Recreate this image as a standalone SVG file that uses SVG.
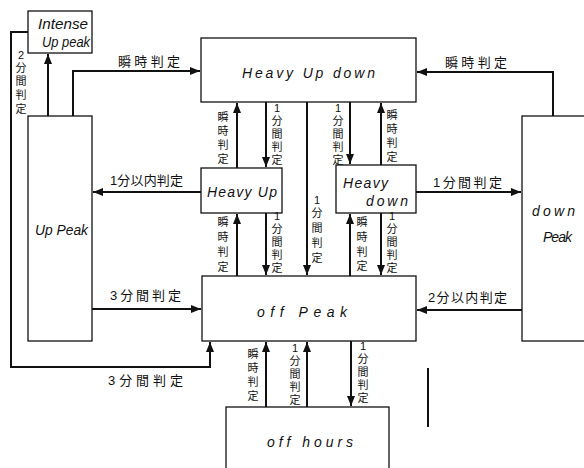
<svg xmlns="http://www.w3.org/2000/svg" width="584" height="468" viewBox="0 0 584 468">
<style>
.box{fill:#fff;stroke:#111;stroke-width:1.3}
.c{fill:none;stroke:#111;stroke-width:2}
.en{font-family:"Liberation Sans","DejaVu Sans",sans-serif;font-style:italic;font-size:14px;fill:#111}
.jp{font-family:"Liberation Sans","Noto Sans CJK JP",sans-serif;font-size:13px;fill:#111}
.v{font-family:"Liberation Sans","Noto Sans CJK JP",sans-serif;font-size:11px;fill:#111;text-anchor:middle}
</style>
<defs>
<marker id="ah" viewBox="0 0 10 8" refX="10" refY="4" markerWidth="10" markerHeight="8" markerUnits="userSpaceOnUse" orient="auto">
<path d="M0,0 L10,4 L0,8 Z" fill="#111"/>
</marker>
</defs>
<rect width="584" height="468" fill="#fff"/>

<g id="intense-up-peak"><rect class="box" x="28" y="11" width="64" height="42"/>
<text class="en" x="38" y="29" textLength="50" lengthAdjust="spacingAndGlyphs">Intense</text>
<text class="en" x="42" y="47" textLength="48" lengthAdjust="spacingAndGlyphs">Up peak</text></g>

<g id="up-peak"><rect class="box" x="28" y="116" width="64" height="225"/>
<text class="en" x="35" y="235" textLength="53" lengthAdjust="spacingAndGlyphs">Up Peak</text></g>

<g id="heavy-up-down"><rect class="box" x="201" y="38" width="215" height="64"/>
<text class="en" x="242" y="78" textLength="133" lengthAdjust="spacing">Heavy Up down</text></g>

<g id="heavy-up"><rect class="box" x="201" y="168" width="81" height="45"/>
<text class="en" x="207" y="197" textLength="70" lengthAdjust="spacing">Heavy Up</text></g>

<g id="heavy-down"><rect class="box" x="336" y="165" width="80" height="48"/>
<text class="en" x="343" y="188" textLength="45" lengthAdjust="spacing">Heavy</text>
<text class="en" x="366" y="206" textLength="42" lengthAdjust="spacing">down</text></g>

<g id="down-peak"><rect class="box" x="522" y="116" width="70" height="225"/>
<text class="en" x="532" y="216" textLength="43" lengthAdjust="spacing">down</text>
<text class="en" x="543" y="242" textLength="29" lengthAdjust="spacing">Peak</text></g>

<g id="off-peak"><rect class="box" x="202" y="276" width="214" height="65"/>
<text class="en" x="257" y="317" textLength="90" lengthAdjust="spacing">off  Peak</text></g>

<g id="off-hours"><rect class="box" x="226" y="407" width="163" height="70"/>
<text class="en" x="267" y="447" textLength="86" lengthAdjust="spacing">off hours</text></g>

<g id="connectors">
<path class="c" d="M48,116 V54" marker-end="url(#ah)"/>
<path class="c" d="M73,116 V71 H200" marker-end="url(#ah)"/>
<path class="c" d="M553,116 V72 H417" marker-end="url(#ah)"/>
<path class="c" d="M28,32 H11 V367 H210 V342" marker-end="url(#ah)"/>
<path class="c" d="M237,168 V103" marker-end="url(#ah)"/>
<path class="c" d="M266,102 V167" marker-end="url(#ah)"/>
<path class="c" d="M307,102 V275" marker-end="url(#ah)"/>
<path class="c" d="M350,102 V164" marker-end="url(#ah)"/>
<path class="c" d="M381,165 V103" marker-end="url(#ah)"/>
<path class="c" d="M201,192 H93" marker-end="url(#ah)"/>
<path class="c" d="M416,192 H521" marker-end="url(#ah)"/>
<path class="c" d="M237,276 V214" marker-end="url(#ah)"/>
<path class="c" d="M266,213 V275" marker-end="url(#ah)"/>
<path class="c" d="M350,276 V214" marker-end="url(#ah)"/>
<path class="c" d="M381,213 V275" marker-end="url(#ah)"/>
<path class="c" d="M92,309 H201" marker-end="url(#ah)"/>
<path class="c" d="M522,310 H417" marker-end="url(#ah)"/>
<path class="c" d="M266,407 V342" marker-end="url(#ah)"/>
<path class="c" d="M307,407 V342" marker-end="url(#ah)"/>
<path class="c" d="M351,341 V406" marker-end="url(#ah)"/>
<path class="c" d="M428,368 V427"/>
</g>

<g id="labels">
<text class="jp" x="118" y="66" textLength="62" lengthAdjust="spacing">瞬時判定</text>
<text class="jp" x="445" y="67" textLength="62" lengthAdjust="spacing">瞬時判定</text>
<text class="jp" x="110" y="185" textLength="73" lengthAdjust="spacing">1分以内判定</text>
<text class="jp" x="433" y="187" textLength="69" lengthAdjust="spacing">1分間判定</text>
<text class="jp" x="110" y="300" textLength="71" lengthAdjust="spacing">3分間判定</text>
<text class="jp" x="428" y="302" textLength="79" lengthAdjust="spacing">2分以内判定</text>
<text class="jp" x="108" y="385" textLength="75" lengthAdjust="spacing">3分間判定</text>

<text class="v"><tspan x="21" y="59">2</tspan><tspan x="21" y="72">分</tspan><tspan x="21" y="85">間</tspan><tspan x="21" y="99">判</tspan><tspan x="21" y="113">定</tspan></text>

<text class="v"><tspan x="223" y="121">瞬</tspan><tspan x="223" y="135">時</tspan><tspan x="223" y="149">判</tspan><tspan x="223" y="163">定</tspan></text>
<text class="v"><tspan x="277" y="112">1</tspan><tspan x="277" y="125">分</tspan><tspan x="277" y="138">間</tspan><tspan x="277" y="151">判</tspan><tspan x="277" y="164">定</tspan></text>
<text class="v"><tspan x="338" y="112">1</tspan><tspan x="338" y="125">分</tspan><tspan x="338" y="138">間</tspan><tspan x="338" y="151">判</tspan><tspan x="338" y="164">定</tspan></text>
<text class="v"><tspan x="392" y="119">瞬</tspan><tspan x="392" y="133">時</tspan><tspan x="392" y="147">判</tspan><tspan x="392" y="161">定</tspan></text>

<text class="v"><tspan x="223" y="226">瞬</tspan><tspan x="223" y="241">時</tspan><tspan x="223" y="256">判</tspan><tspan x="223" y="271">定</tspan></text>
<text class="v"><tspan x="277" y="220">1</tspan><tspan x="277" y="233">分</tspan><tspan x="277" y="246">間</tspan><tspan x="277" y="259">判</tspan><tspan x="277" y="272">定</tspan></text>
<text class="v"><tspan x="317" y="204">1</tspan><tspan x="317" y="217">分</tspan><tspan x="317" y="232">間</tspan><tspan x="317" y="247">判</tspan><tspan x="317" y="262">定</tspan></text>
<text class="v"><tspan x="362" y="226">瞬</tspan><tspan x="362" y="241">時</tspan><tspan x="362" y="256">判</tspan><tspan x="362" y="270">定</tspan></text>
<text class="v"><tspan x="392" y="220">1</tspan><tspan x="392" y="233">分</tspan><tspan x="392" y="246">間</tspan><tspan x="392" y="259">判</tspan><tspan x="392" y="272">定</tspan></text>

<text class="v"><tspan x="253" y="358">瞬</tspan><tspan x="253" y="372">時</tspan><tspan x="253" y="386">判</tspan><tspan x="253" y="400">定</tspan></text>
<text class="v"><tspan x="295" y="352">1</tspan><tspan x="295" y="365">分</tspan><tspan x="295" y="378">間</tspan><tspan x="295" y="391">判</tspan><tspan x="295" y="404">定</tspan></text>
<text class="v"><tspan x="363" y="350">1</tspan><tspan x="363" y="363">分</tspan><tspan x="363" y="376">間</tspan><tspan x="363" y="389">判</tspan><tspan x="363" y="402">定</tspan></text>
</g>
</svg>
